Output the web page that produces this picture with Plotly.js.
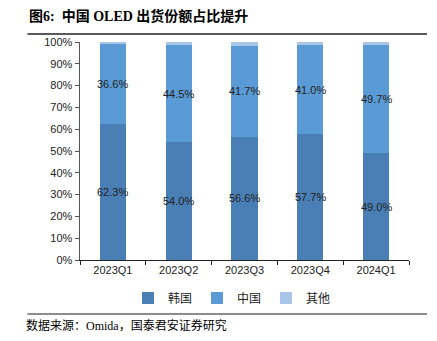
<!DOCTYPE html>
<html><head><meta charset="utf-8">
<script src="https://cdn.plot.ly/plotly-3.0.1.min.js"></script>
<style>html,body{margin:0;padding:0;background:#fff;}#c{width:437px;height:341px;}</style>
</head><body><div id="c"></div>
<script>
var categories = ['2023Q1','2023Q2','2023Q3','2023Q4','2024Q1'];
var korea = [62.3, 54.0, 56.6, 57.7, 49.0];
var china = [36.6, 44.5, 41.7, 41.0, 49.7];
var others = [1.1, 1.5, 1.7, 1.3, 1.3];
var seriesNames = ['韩国','中国','其他'];

var colors = ['#4a7fb5','#5b9bd5','#a9c5e8'];
var traces = [korea, china, others].map(function(v,i){
  return {type:'bar', x:categories, y:v, name:seriesNames[i], marker:{color:colors[i]}, hoverinfo:'none'};
});

var L=80, R=28, T=42, B=81, W=437, H=341;
var pw = W-L-R, ph = H-T-B;
function px(x){return (x-L)/pw;} function py(y){return (H-B-y)/ph;}

var ann = [];
[[34,'#222',1.2],[314,'#666',1]].forEach(function(r){
  ann.push({x:px(427), y:py(r[0]), xref:'paper', yref:'paper', axref:'pixel', ayref:'pixel', ax:-400, ay:0,
    showarrow:true, arrowhead:0, arrowwidth:r[2], arrowcolor:r[1], standoff:0, startstandoff:0, text:' ', font:{size:1}});
});
ann.push({x:px(27), y:py(16), xref:'paper', yref:'paper', xanchor:'left', yanchor:'middle', showarrow:false,
  text:'<b>图6:  中国 OLED 出货份额占比提升</b>', font:{family:'Liberation Serif, Noto Sans CJK SC', size:14, color:'#000'}});
var lf = {family:'Liberation Sans, Arial', size:11, color:'#222'};
for (var i=0;i<categories.length;i++){
  ann.push({x:categories[i], y:korea[i]/2, xref:'x', yref:'y', text:korea[i].toFixed(1)+'%', showarrow:false, font:lf});
  ann.push({x:categories[i], y:korea[i]+china[i]/2, xref:'x', yref:'y', text:china[i].toFixed(1)+'%', showarrow:false, font:lf});
}

var layout = {
  width:W, height:H,
  margin:{l:L, r:R, t:T, b:B},
  title:{text:'数据来源：Omida，国泰君安证券研究', xref:'container', yref:'container', x:26/W, xanchor:'left', y:1-326/H, yanchor:'middle',
    font:{family:'Liberation Serif, Noto Sans CJK SC', size:12, color:'#000'}},
  barmode:'stack', bargap:0.6,
  showlegend:true,
  legend:{orientation:'h', x:px(232), xanchor:'center', y:py(298), yanchor:'middle', bgcolor:'rgba(0,0,0,0)',
    font:{family:'Liberation Sans, Noto Sans CJK SC', size:12, color:'#222'}, itemwidth:30, traceorder:'normal'},
  xaxis:{type:'category', showline:true, linecolor:'#222', linewidth:1, ticks:'outside', tickson:'boundaries', ticklen:4, tickcolor:'#222',
    tickfont:{family:'Liberation Sans, Arial', size:11, color:'#222'}, showgrid:false, zeroline:false, fixedrange:true},
  yaxis:{range:[0,100], dtick:10, ticksuffix:'%', showline:true, linecolor:'#555', linewidth:1.5, ticks:'outside', ticklen:4, tickcolor:'#555',
    tickfont:{family:'Liberation Sans, Arial', size:11, color:'#222'}, showgrid:false, zeroline:false, fixedrange:true},
  annotations:ann,
  shapes:[
    {type:'line', xref:'paper', yref:'paper', x0:px(27), x1:px(427), y0:py(34), y1:py(34), line:{color:'#222', width:1.2}},
    {type:'line', xref:'paper', yref:'paper', x0:px(27), x1:px(427), y0:py(314), y1:py(314), line:{color:'#666', width:1}}
  ]
};
Plotly.newPlot('c', traces, layout, {displayModeBar:false, staticPlot:true});
</script></body></html>
